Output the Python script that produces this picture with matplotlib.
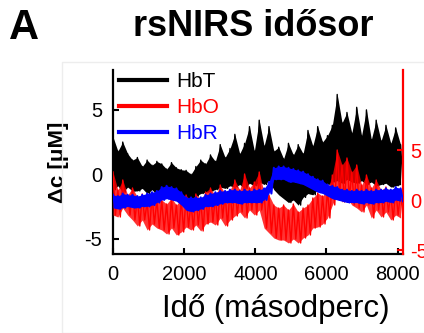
import numpy as np
import matplotlib
matplotlib.use("Agg")
import matplotlib.pyplot as plt
from matplotlib.patches import Rectangle

plt.rcParams['font.family'] = ['Liberation Sans', 'DejaVu Sans']
plt.rcParams['axes.unicode_minus'] = False

# values (zig-zag envelope of the noisy traces:
# even positions are the upper edge, odd positions the lower edge)
hbt = [2.9, -1.2, 1.8, -0.9, 2.5, -1.4, 1.6, -1.0, 1.1, -1.3,
       1.3, -1.3, 0.6, -1.1, 1.1, -1.5, 0.7, -1.2, 1.0, -1.6,
       0.8, -1.4, 0.4, -1.7, 0.9, -1.5, 0.5, -1.8, 0.35, -1.6,
       0.3, -1.9, 0.0, -2.0, 0.6, -1.7, 1.1, -1.5, 0.8, -1.4,
       1.5, -1.3, 1.0, -1.2, 2.3, -1.0, 1.3, -1.1, 2.0, -0.9,
       3.1, -1.0, 1.6, -0.8, 2.4, -1.1, 3.7, -0.7, 1.8, -0.9,
       4.2, -0.6, 2.2, -0.8, 3.7, -0.5, 1.8, -1.2, 2.1, -1.6,
       1.2, -1.9, 2.4, -2.2, 1.5, -2.0, 2.3, -2.4, 1.6, -1.8,
       3.4, -1.5, 2.2, -1.6, 3.7, -1.2, 2.5, -1.0, 3.0, -0.8,
       3.8, -0.6, 6.2, -0.5, 4.0, -0.7, 4.8, -0.4, 3.2, -0.6,
       5.2, -0.7, 3.0, -0.5, 5.0, -0.8, 2.7, -0.6, 4.2, -0.9,
       2.6, -0.8, 3.8, -0.7, 2.4, -1.0, 3.6, -0.9, 2.3, -0.8]

hbo = [2.8, -1.5, 1.0, -1.7, 2.0, -0.8, 0.5, -1.5, 1.2, -2.0,
       0.3, -2.6, 0.6, -2.0, -0.2, -3.0, 0.5, -2.4, 0.0, -2.8,
       0.0, -3.0, -0.4, -3.4, 0.2, -2.8, -0.5, -3.5, 0.1, -3.2,
       0.5, -2.7, -0.2, -3.0, 0.6, -2.5, 0.0, -3.1, 0.8, -2.4,
       1.2, -2.2, 0.4, -2.5, 1.5, -1.8, 0.6, -2.6, 1.0, -2.0,
       2.0, -1.6, 1.0, -1.2, 2.6, -1.8, 1.2, -1.0, 1.8, -1.5,
       2.8, -1.0, 0.7, -2.8, 0.5, -3.3, -0.5, -3.8, -0.8, -4.0,
       -0.5, -4.0, -1.0, -4.3, -0.4, -3.9, -1.2, -4.3, -0.8, -3.8,
       -0.5, -3.5, 0.2, -2.8, 0.7, -2.7, 0.4, -2.4, 1.0, -1.8,
       2.5, -0.5, 5.0, 0.6, 3.5, -0.2, 4.2, 0.2, 2.8, -0.5,
       3.5, -0.8, 1.5, -1.2, 2.5, -0.5, 1.2, -1.8, 2.0, -1.0,
       1.0, -1.7, 1.3, -1.2, 0.6, -2.0, 1.2, -1.5, 0.8, -1.8]

hbr = [-1.6, -2.6, -1.7, -2.7, -1.5, -2.6, -1.6, -2.5, -1.6, -2.6,
       -1.7, -2.6, -1.6, -2.5, -1.5, -2.5, -1.4, -2.4, -1.3, -2.2,
       -1.0, -2.0, -0.9, -1.9, -1.0, -2.0, -1.1, -2.1, -1.4, -2.4,
       -1.8, -2.8, -1.8, -2.9, -1.8, -2.8, -1.8, -2.7, -1.6, -2.5,
       -1.5, -2.5, -1.4, -2.4, -1.3, -2.3, -1.3, -2.2, -1.2, -2.2,
       -1.2, -2.2, -1.3, -2.3, -1.2, -2.2, -1.3, -2.2, -1.2, -2.2,
       -1.2, -2.2, -1.1, -2.0, -0.6, -1.5, 0.5, -0.4, 0.6, -0.4,
       0.6, -0.4, 0.5, -0.6, 0.4, -0.6, 0.3, -0.7, 0.2, -0.8,
       0.0, -1.0, -0.2, -1.2, -0.4, -1.4, -0.5, -1.5, -0.8, -1.7,
       -0.9, -1.9, -1.0, -2.0, -1.2, -2.1, -1.2, -2.2, -1.3, -2.2,
       -1.2, -2.2, -1.3, -2.3, -1.2, -2.2, -1.3, -2.3, -1.2, -2.2,
       -1.2, -2.2, -1.1, -2.1, -1.2, -2.2, -1.0, -2.0, -1.1, -2.1]

t_end = 8150  # seconds
t = np.linspace(0, t_end, len(hbt))

left_ticks = [-5, 0, 5]
right_ticks = [-5, 0, 5]
x_ticks = [0, 2000, 4000, 6000, 8000]

RED = '#ff0000'
BLUE = '#0000ff'

fig = plt.figure(figsize=(4.24, 3.33), dpi=100)
fig.patches.append(Rectangle((62 / 424, 0), 1, 1 - 62 / 333, transform=fig.transFigure,
                             fill=False, edgecolor='#ededed', linewidth=1))
ax = fig.add_axes([113 / 424, 1 - 254 / 333, 290 / 424, 184 / 333])
ax2 = ax.twinx()
ax.set_xlim(0, t_end)
ax.set_ylim(-6.2, 8.1)
ax2.set_ylim(-5.4, 13)

# all traces live on ax2 so they stack black < red < blue;
# HbT and HbR use the left-axis scale
left = ax.transData
te = t[0::2]
hbt = np.array(hbt)
hbo = np.array(hbo)
hbr = np.array(hbr)
ax2.fill_between(te, hbt[1::2], hbt[0::2], color='black', lw=0, transform=left, zorder=1)
l1, = ax2.plot(t, hbt, color='black', lw=1.0, label='HbT', transform=left, zorder=1)
ax2.fill_between(te, hbo[1::2], hbo[0::2], color=RED, lw=0, alpha=0.8, zorder=2)
l2, = ax2.plot(t, hbo, color=RED, lw=1.0, label='HbO', zorder=2)
ax2.fill_between(te, hbr[1::2], hbr[0::2], color=BLUE, lw=0, transform=left, zorder=3)
l3, = ax2.plot(t, hbr, color=BLUE, lw=1.5, label='HbR', transform=left, zorder=3)

ax.set_xlim(0, t_end)
ax.set_ylim(-6.2, 8.1)
ax2.set_ylim(-5.4, 13)
ax.set_xticks(x_ticks)
ax.set_yticks(left_ticks)
ax2.set_yticks(right_ticks)

ax.spines['top'].set_visible(False)
ax2.spines['top'].set_visible(False)
ax.spines['right'].set_visible(False)
for s in ['left', 'bottom']:
    ax.spines[s].set_linewidth(1.6)
    ax2.spines[s].set_visible(False)
ax2.spines['right'].set_color(RED)
ax2.spines['right'].set_linewidth(1.6)

ax.tick_params(direction='in', length=4, width=1.5, labelsize=14.5, pad=8)
ax2.tick_params(direction='in', length=4, width=1.5, labelsize=14.5, pad=5,
                colors=RED)

ax.set_ylabel('Δc [μM]', fontsize=16, fontweight='bold', labelpad=11)
ax.set_xlabel('Idő (másodperc)', fontsize=22.5, labelpad=6)
ax.xaxis.set_label_coords(0.56, -0.22)

leg = ax2.legend(handles=[l1, l2, l3], loc='upper left', bbox_to_anchor=(-0.015, 1.045),
                 frameon=False, fontsize=15, handlelength=2.3, handletextpad=0.45,
                 labelspacing=0.34, borderpad=0, labelcolor='linecolor')
for h in leg.legend_handles:
    h.set_linewidth(3)

fig.text(253 / 424, 1 - 27 / 333, 'rsNIRS idősor', fontsize=26, fontweight='bold',
         ha='center', va='center')
fig.text(24 / 424, 1 - 28 / 333, 'A', fontsize=30, fontweight='bold',
         ha='center', va='center')

fig.savefig('out.png', dpi=100)
